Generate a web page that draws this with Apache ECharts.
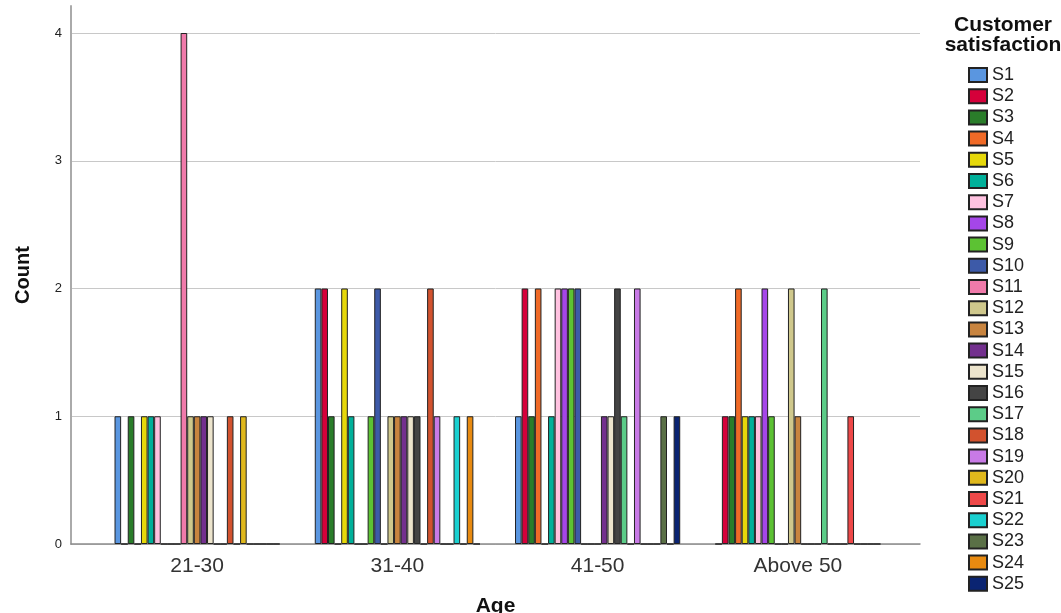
<!DOCTYPE html>
<html>
<head>
<meta charset="utf-8">
<script src="https://cdn.jsdelivr.net/npm/echarts@6/dist/echarts.min.js"></script>
<style>html,body{margin:0;padding:0;background:#fff}#c{width:1061px;height:613px}</style>
</head>
<body>
<div id="c"></div>
<script>
const categories = ['21-30', '31-40', '41-50', 'Above 50'];
const seriesNames = ['S1','S2','S3','S4','S5','S6','S7','S8','S9','S10','S11','S12','S13','S14','S15','S16','S17','S18','S19','S20','S21','S22','S23','S24','S25'];
const S1  = [1, 2, 1, 0];
const S2  = [0, 2, 2, 1];
const S3  = [1, 1, 1, 1];
const S4  = [0, 0, 2, 2];
const S5  = [1, 2, 0, 1];
const S6  = [1, 1, 1, 1];
const S7  = [1, 0, 2, 1];
const S8  = [0, 0, 2, 2];
const S9  = [0, 1, 2, 1];
const S10 = [0, 2, 2, 0];
const S11 = [4, 0, 0, 0];
const S12 = [1, 1, 0, 2];
const S13 = [1, 1, 0, 1];
const S14 = [1, 1, 1, 0];
const S15 = [1, 1, 1, 0];
const S16 = [0, 1, 2, 0];
const S17 = [0, 0, 1, 2];
const S18 = [1, 2, 0, 0];
const S19 = [0, 1, 2, 0];
const S20 = [1, 0, 0, 0];
const S21 = [0, 0, 0, 1];
const S22 = [0, 1, 0, 0];
const S23 = [0, 0, 1, 0];
const S24 = [0, 1, 0, 0];
const S25 = [0, 0, 1, 0];
const yTicks = [0, 1, 2, 3, 4];
const colors = ['#5a96e0','#d5003a','#2a7d2a','#f06a27','#e6d80a','#00b09a','#ffc2e0','#a546e8','#5cc233','#3d5aa8',
                '#f07aaa','#cfc88c','#c8843f','#73308e','#ece4cc','#444444','#5ccc88','#d2522e','#c87ae6','#e0b81c',
                '#ee4848','#1ad0d0','#5a7046','#e88a10','#0a2472'];
const allData = [S1,S2,S3,S4,S5,S6,S7,S8,S9,S10,S11,S12,S13,S14,S15,S16,S17,S18,S19,S20,S21,S22,S23,S24,S25];

const FONT = '"Liberation Sans", Arial, sans-serif';
const chart = echarts.init(document.getElementById('c'), null, {renderer: 'canvas'});

const series = seriesNames.map((n, i) => ({
  name: n,
  type: 'bar',
  xAxisIndex: 2,
  yAxisIndex: 2,
  data: allData[i],
  barGap: '0%',
  barCategoryGap: '17.5%',
  itemStyle: {color: colors[i], borderColor: '#222', borderWidth: 1},
  emphasis: {disabled: true},
  animation: false
}));

chart.setOption({
  animation: false,
  color: colors,
  textStyle: {fontFamily: FONT},
  title: {
    text: 'Customer\nsatisfaction',
    left: 998, top: 10, textAlign: 'center',
    textStyle: {fontFamily: FONT, fontSize: 21, fontWeight: 'bold', color: '#111', lineHeight: 20}
  },
  legend: {
    orient: 'vertical',
    left: 963, top: 61, bottom: 0,
    itemWidth: 18, itemHeight: 14, itemGap: 3.2,
    icon: 'rect',
    textStyle: {fontFamily: FONT, fontSize: 18, color: '#222', lineHeight: 18},
    data: seriesNames,
    selectedMode: false
  },
  grid: [
    {left: 71, top: 6, width: 849, height: 538, outerBoundsMode: 'none', containLabel: false},
    {left: 71, top: 33, width: 849, height: 511, outerBoundsMode: 'none', containLabel: false},
    {left: 97, top: 33, width: 801, height: 511, outerBoundsMode: 'none', containLabel: false}
  ],
  xAxis: [
    {gridIndex: 0, type: 'category', data: [''],
     axisLine: {show: true, lineStyle: {color: '#8c8c8c', width: 1.5}},
     axisTick: {show: false}, axisLabel: {show: false},
     name: 'Age', nameLocation: 'middle', nameGap: 52,
     nameTextStyle: {fontFamily: FONT, fontSize: 21, fontWeight: 'bold', color: '#111'}},
    {gridIndex: 1, type: 'category', data: [''], show: false},
    {gridIndex: 2, type: 'category', data: categories,
     axisLine: {show: false}, axisTick: {show: false},
     axisLabel: {margin: 12, fontFamily: FONT, fontSize: 21, color: '#333'}}
  ],
  yAxis: [
    {gridIndex: 0, type: 'value', min: 0, max: 1,
     axisLine: {show: true, lineStyle: {color: '#aaaaaa', width: 2}},
     axisTick: {show: false}, axisLabel: {show: false}, splitLine: {show: false},
     name: 'Count', nameLocation: 'middle', nameGap: 38, nameRotate: 90,
     nameTextStyle: {fontFamily: FONT, fontSize: 20, fontWeight: 'bold', color: '#111'}},
    {gridIndex: 1, type: 'value', min: yTicks[0], max: yTicks[yTicks.length - 1], interval: 1,
     axisLine: {show: false}, axisTick: {show: false},
     axisLabel: {margin: 9, fontFamily: FONT, fontSize: 13, color: '#222'},
     splitLine: {show: true, lineStyle: {color: '#c8c8c8', width: 1}}},
    {gridIndex: 2, type: 'value', min: yTicks[0], max: yTicks[yTicks.length - 1], interval: 1, show: false,
     splitLine: {show: false}}
  ],
  series: series
});
</script>
</body>
</html>
